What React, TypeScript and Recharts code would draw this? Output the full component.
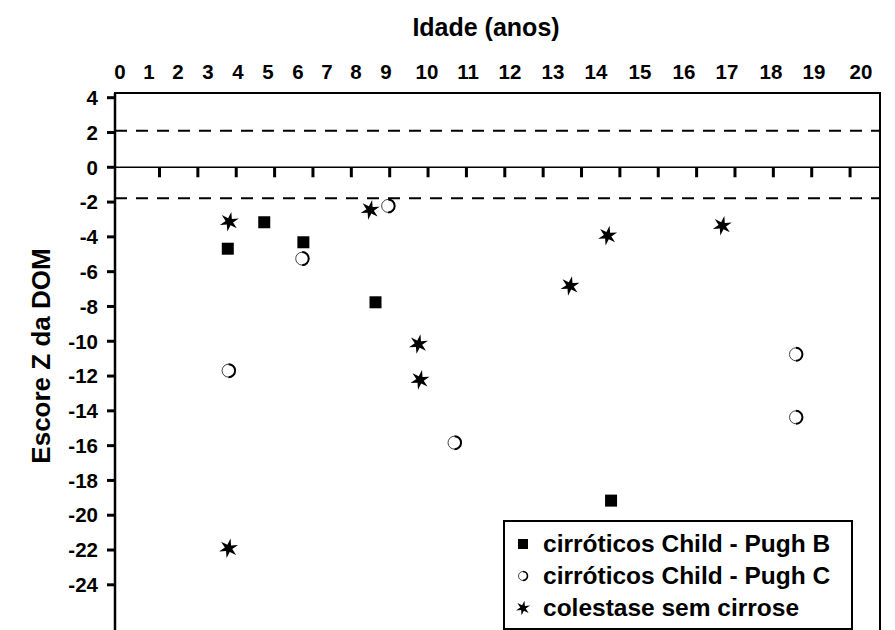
import React from 'react';
import {
  ScatterChart, Scatter, XAxis, YAxis, ReferenceLine, ReferenceArea,
} from 'recharts';

// Escore Z da DOM por idade (anos)
const pughB = [
  { x: 2.78, y: -4.68 },
  { x: 3.73, y: -3.16 },
  { x: 4.75, y: -4.31 },
  { x: 6.63, y: -7.76 },
  { x: 12.77, y: -19.16 },
];

const pughC = [
  { x: 2.8, y: -11.69 },
  { x: 4.72, y: -5.25 },
  { x: 6.96, y: -2.22 },
  { x: 8.69, y: -15.83 },
  { x: 17.59, y: -10.75 },
  { x: 17.59, y: -14.37 },
];

const colestase = [
  { x: 2.82, y: -3.13 },
  { x: 2.8, y: -21.9 },
  { x: 6.49, y: -2.45 },
  { x: 7.75, y: -10.16 },
  { x: 7.79, y: -12.22 },
  { x: 11.7, y: -6.82 },
  { x: 12.68, y: -3.93 },
  { x: 15.67, y: -3.36 },
];

// tick marks hanging from the zero line
const zeroTicks = [1, 2, 3, 4, 5, 6, 7, 8, 9, 10, 11, 12, 13, 14, 15, 16, 17, 18, 19].map(x => ({ x, y: 0 }));

const yTicks = [4, 2, 0, -2, -4, -6, -8, -10, -12, -14, -16, -18, -20, -22, -24];

// the age labels were typed as text above the box, not on the axis scale
const ageLabels = ['0', '1', '2', '3', '4', '5', '6', '7', '8', '9', '10', '11', '12', '13', '14', '15', '16', '17', '18', '19', '20'];
const ageLabelX = [120, 149, 178, 208, 238, 268, 298, 327, 356, 386, 427, 468, 510, 553, 596, 640, 684, 727, 771, 814, 861];

const upperLimit = 2.1;
const lowerLimit = -1.78;

const FONT = '"Liberation Sans", Arial, sans-serif';

const Square = (props: any) => {
  const { cx, cy } = props;
  if (cx == null || cy == null) return null;
  return <rect x={cx - 6} y={cy - 6} width={12} height={12} fill="#000" />;
};

const Ring = (props: any) => {
  const { cx, cy } = props;
  if (cx == null || cy == null) return null;
  const r = 6.5;
  return (
    <g>
      <circle cx={cx} cy={cy} r={r} fill="#fff" stroke="#444" strokeWidth={1} />
      <path d={`M ${cx} ${cy - r} A ${r} ${r} 0 0 1 ${cx} ${cy + r}`} fill="none" stroke="#000" strokeWidth={2} />
    </g>
  );
};

const starPath = (cx: number, cy: number, outer: number, inner: number) => {
  let d = '';
  for (let i = 0; i < 12; i++) {
    const r = i % 2 === 0 ? outer : inner;
    const a = (Math.PI / 6) * i - Math.PI / 2 + 0.2;
    d += `${i === 0 ? 'M' : 'L'} ${(cx + r * Math.cos(a)).toFixed(2)} ${(cy + r * Math.sin(a)).toFixed(2)} `;
  }
  return d + 'Z';
};

const Star = (props: any) => {
  const { cx, cy } = props;
  if (cx == null || cy == null) return null;
  return <path d={starPath(cx, cy, 10, 3.8)} fill="#000" />;
};

const ZeroTick = (props: any) => {
  const { cx, cy } = props;
  if (cx == null || cy == null) return null;
  return <rect x={cx - 1.5} y={cy} width={3} height={10} fill="#000" />;
};

const legendItems = [
  { label: 'cirróticos Child - Pugh B', kind: 'square' },
  { label: 'cirróticos Child - Pugh C', kind: 'ring' },
  { label: 'colestase sem cirrose', kind: 'star' },
];

const LegendMark = ({ kind }: { kind: string }) => (
  <svg width={16} height={16} style={{ marginRight: 12, flexShrink: 0 }}>
    {kind === 'square' && <rect x={3} y={3} width={10} height={10} fill="#000" />}
    {kind === 'ring' && (
      <g>
        <circle cx={8} cy={8} r={4.5} fill="#fff" stroke="#444" strokeWidth={1} />
        <path d="M 8 3.5 A 4.5 4.5 0 0 1 8 12.5" fill="none" stroke="#000" strokeWidth={1.6} />
      </g>
    )}
    {kind === 'star' && <path d={starPath(8, 8, 7.5, 2.8)} fill="#000" />}
  </svg>
);

export default function App() {
  return (
    <div style={{ position: 'absolute', left: 0, top: 0, width: 895, height: 630, overflow: 'hidden', background: '#fff', fontFamily: FONT }}>
      <div style={{ position: 'absolute', left: 0, width: 972, top: 13, textAlign: 'center', fontSize: 25, fontWeight: 'bold', lineHeight: '28px' }}>
        Idade (anos)
      </div>
      {ageLabels.map((label, i) => (
        <span
          key={label}
          style={{ position: 'absolute', left: ageLabelX[i], top: 61, transform: 'translateX(-50%)', fontSize: 20.5, fontWeight: 'bold', lineHeight: '22px' }}
        >
          {label}
        </span>
      ))}

      <ScatterChart width={895} height={660} margin={{ top: 93, right: 15, bottom: 23, left: 0 }}>
        <XAxis type="number" dataKey="x" domain={[-0.16, 19.78]} allowDataOverflow hide />
        <YAxis
          type="number"
          dataKey="y"
          width={115}
          domain={[-27, 4.27]}
          allowDataOverflow
          ticks={yTicks}
          interval={0}
          axisLine={{ stroke: '#000', strokeWidth: 2.5 }}
          tickLine={{ stroke: '#000', strokeWidth: 3 }}
          tickSize={8}
          tickMargin={9}
          tick={{ fill: '#000', fontSize: 20.5, fontWeight: 'bold', fontFamily: FONT }}
          label={{
            content: () => (
              <text x={41} y={356} transform="rotate(-90 41 356)" textAnchor="middle" dominantBaseline="central"
                fontSize={26} fontWeight="bold" fontFamily={FONT} fill="#000">
                Escore Z da DOM
              </text>
            ),
          }}
        />
        <ReferenceArea x1={-0.16} x2={19.78} y1={-27} y2={4.27} fill="none" stroke="#000" strokeWidth={2} ifOverflow="visible" />
        <ReferenceLine y={upperLimit} stroke="#000" strokeWidth={2} strokeDasharray="12 9" />
        <ReferenceLine y={lowerLimit} stroke="#000" strokeWidth={2} strokeDasharray="12 9" />
        <ReferenceLine y={0} stroke="#000" strokeWidth={1.5} />
        <Scatter data={zeroTicks} shape={ZeroTick} isAnimationActive={false} />
        <Scatter name="cirróticos Child - Pugh B" data={pughB} shape={Square} isAnimationActive={false} />
        <Scatter name="cirróticos Child - Pugh C" data={pughC} shape={Ring} isAnimationActive={false} />
        <Scatter name="colestase sem cirrose" data={colestase} shape={Star} isAnimationActive={false} />
      </ScatterChart>

      <div style={{ position: 'absolute', left: 503, top: 520, width: 336, height: 100, border: '2px solid #000', background: '#fff', padding: '6px 0 0 10px', boxSizing: 'content-box' }}>
        {legendItems.map(item => (
          <div key={item.label} style={{ display: 'flex', alignItems: 'center', height: 32, fontSize: 24.5, fontWeight: 'bold', whiteSpace: 'nowrap' }}>
            <LegendMark kind={item.kind} />
            {item.label}
          </div>
        ))}
      </div>
    </div>
  );
}
